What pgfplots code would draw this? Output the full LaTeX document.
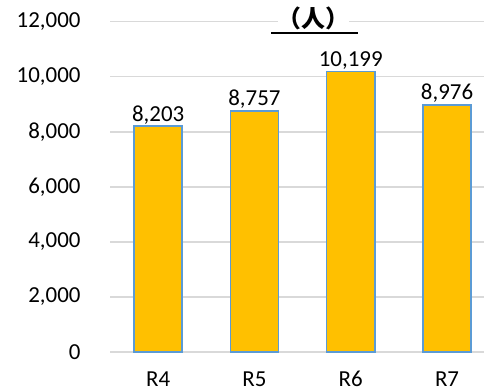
\documentclass[border=0pt]{standalone}
\usepackage{pgfplots}
\pgfplotsset{compat=1.18}
\usepackage{fontspec}
\setmainfont{Carlito}
\newfontfamily\cjk{Noto Sans CJK JP}
\definecolor{barfill}{HTML}{FFC000}
\definecolor{baredge}{HTML}{5B9BD5}
\definecolor{gridgray}{HTML}{D9D9D9}
\begin{document}
\begin{tikzpicture}
\useasboundingbox (0,0) rectangle (484bp,392bp);
\begin{axis}[
  at={(110bp,40bp)}, anchor=south west,
  scale only axis, width=374bp, height=330.3bp,
  xmin=-0.5, xmax=3.384, ymin=0, ymax=12000,
  ybar, bar width=0.5, bar shift=0pt,
  xtick={0,1,2,3}, xticklabels={R4,R5,R6,R7},
  ytick={0,2000,...,12000},
  ymajorgrids, grid style={gridgray, line width=1.5bp},
  axis x line*=bottom, axis y line*=left,
  y axis line style={draw=none},
  x axis line style={gridgray, line width=1.5bp},
  major tick length=0pt,
  font=\fontsize{23}{27}\selectfont,
  /pgf/number format/assume math mode=true,
  /pgf/number format/1000 sep={,},
  scaled y ticks=false,
  yticklabel style={anchor=east, xshift=-26bp},
  xticklabel style={anchor=base, yshift=-34bp},
  nodes near coords,
  nodes near coords style={anchor=base, yshift=5bp, /pgf/number format/1000 sep={,}},
  clip=false,
]
\addplot[fill=barfill, draw=baredge, line width=1.5bp] coordinates {(0,8203) (1,8757) (2,10199) (3,8976)};
\end{axis}
\draw[black, line width=1.5bp] (271bp,359bp) -- (358bp,359bp);
\node[fill=white, inner sep=0pt] at (313.5bp,373.5bp) {\cjk\bfseries\fontsize{24}{28}\selectfont （人）};
\end{tikzpicture}
\end{document}
